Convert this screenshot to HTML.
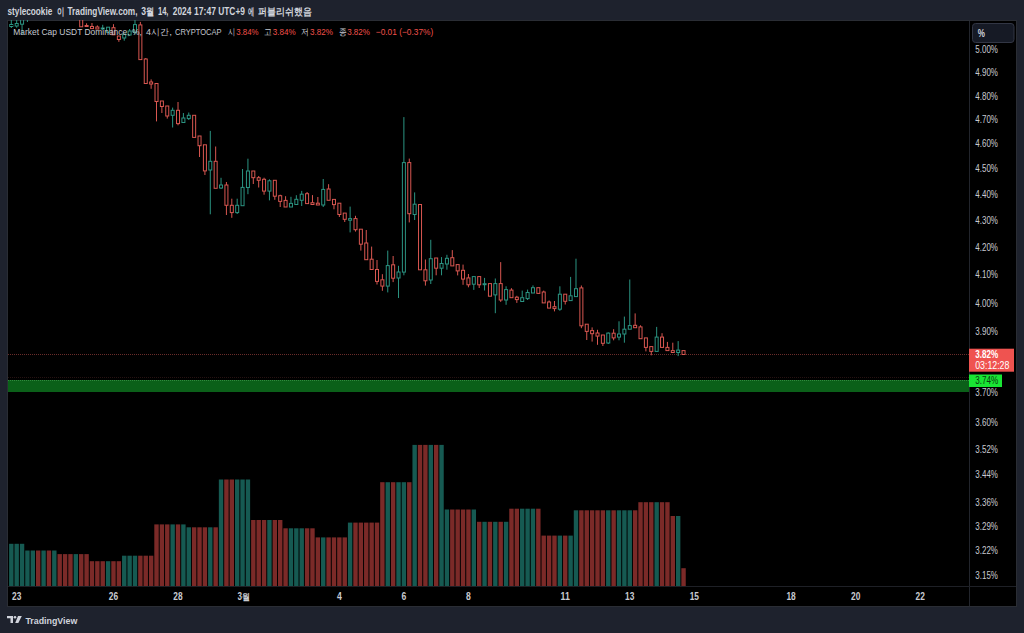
<!DOCTYPE html>
<html><head><meta charset="utf-8"><style>
*{margin:0;padding:0;box-sizing:border-box}
html,body{width:1024px;height:633px;overflow:hidden;background:#1e222d;font-family:"Liberation Sans",sans-serif}
#chart{position:absolute;left:8px;top:21px;width:1008px;height:585px;background:#000;box-shadow:0 0 0 1px #2a2d34}
.s{position:absolute;white-space:nowrap;transform-origin:0 50%}
</style></head><body>
<div id="chart"></div>
<svg width="1024" height="633" viewBox="0 0 1024 633" style="position:absolute;left:0;top:0">
<defs><clipPath id="cp"><rect x="8" y="20" width="962" height="566"/></clipPath></defs>
<g clip-path="url(#cp)"><rect x="9.10" y="543.8" width="4.40" height="42.2" fill="#165a52"/><rect x="14.48" y="543.8" width="4.40" height="42.2" fill="#165a52"/><rect x="19.86" y="543.8" width="4.40" height="42.2" fill="#165a52"/><rect x="25.23" y="550.5" width="4.40" height="35.5" fill="#165a52"/><rect x="30.61" y="550.5" width="4.40" height="35.5" fill="#165a52"/><rect x="35.99" y="550.5" width="4.40" height="35.5" fill="#7b2a28"/><rect x="41.37" y="550.5" width="4.40" height="35.5" fill="#165a52"/><rect x="46.75" y="550.5" width="4.40" height="35.5" fill="#7b2a28"/><rect x="52.12" y="550.5" width="4.40" height="35.5" fill="#165a52"/><rect x="57.50" y="554.1" width="4.40" height="31.9" fill="#7b2a28"/><rect x="62.88" y="554.1" width="4.40" height="31.9" fill="#7b2a28"/><rect x="68.26" y="554.1" width="4.40" height="31.9" fill="#7b2a28"/><rect x="73.64" y="554.1" width="4.40" height="31.9" fill="#165a52"/><rect x="79.01" y="554.1" width="4.40" height="31.9" fill="#7b2a28"/><rect x="84.39" y="554.1" width="4.40" height="31.9" fill="#7b2a28"/><rect x="89.77" y="561.2" width="4.40" height="24.8" fill="#7b2a28"/><rect x="95.15" y="561.2" width="4.40" height="24.8" fill="#7b2a28"/><rect x="100.53" y="561.2" width="4.40" height="24.8" fill="#7b2a28"/><rect x="105.90" y="561.2" width="4.40" height="24.8" fill="#165a52"/><rect x="111.28" y="561.2" width="4.40" height="24.8" fill="#7b2a28"/><rect x="116.66" y="561.2" width="4.40" height="24.8" fill="#7b2a28"/><rect x="122.04" y="555.7" width="4.40" height="30.3" fill="#165a52"/><rect x="127.42" y="555.7" width="4.40" height="30.3" fill="#165a52"/><rect x="132.79" y="555.7" width="4.40" height="30.3" fill="#165a52"/><rect x="138.17" y="555.7" width="4.40" height="30.3" fill="#7b2a28"/><rect x="143.55" y="555.7" width="4.40" height="30.3" fill="#7b2a28"/><rect x="148.93" y="555.7" width="4.40" height="30.3" fill="#7b2a28"/><rect x="154.31" y="524.4" width="4.40" height="61.6" fill="#7b2a28"/><rect x="159.68" y="524.4" width="4.40" height="61.6" fill="#7b2a28"/><rect x="165.06" y="524.4" width="4.40" height="61.6" fill="#7b2a28"/><rect x="170.44" y="524.4" width="4.40" height="61.6" fill="#165a52"/><rect x="175.82" y="524.4" width="4.40" height="61.6" fill="#7b2a28"/><rect x="181.20" y="524.4" width="4.40" height="61.6" fill="#165a52"/><rect x="186.57" y="527.3" width="4.40" height="58.7" fill="#165a52"/><rect x="191.95" y="527.3" width="4.40" height="58.7" fill="#7b2a28"/><rect x="197.33" y="527.3" width="4.40" height="58.7" fill="#7b2a28"/><rect x="202.71" y="527.3" width="4.40" height="58.7" fill="#7b2a28"/><rect x="208.09" y="527.3" width="4.40" height="58.7" fill="#165a52"/><rect x="213.46" y="527.3" width="4.40" height="58.7" fill="#7b2a28"/><rect x="218.84" y="479.5" width="4.40" height="106.5" fill="#165a52"/><rect x="224.22" y="479.5" width="4.40" height="106.5" fill="#7b2a28"/><rect x="229.60" y="479.5" width="4.40" height="106.5" fill="#7b2a28"/><rect x="234.98" y="479.5" width="4.40" height="106.5" fill="#165a52"/><rect x="240.35" y="479.5" width="4.40" height="106.5" fill="#165a52"/><rect x="245.73" y="479.5" width="4.40" height="106.5" fill="#165a52"/><rect x="251.11" y="520.0" width="4.40" height="66.0" fill="#7b2a28"/><rect x="256.49" y="520.0" width="4.40" height="66.0" fill="#7b2a28"/><rect x="261.87" y="520.0" width="4.40" height="66.0" fill="#7b2a28"/><rect x="267.24" y="520.0" width="4.40" height="66.0" fill="#165a52"/><rect x="272.62" y="520.0" width="4.40" height="66.0" fill="#7b2a28"/><rect x="278.00" y="520.0" width="4.40" height="66.0" fill="#7b2a28"/><rect x="283.38" y="528.3" width="4.40" height="57.7" fill="#7b2a28"/><rect x="288.76" y="528.3" width="4.40" height="57.7" fill="#165a52"/><rect x="294.13" y="528.3" width="4.40" height="57.7" fill="#165a52"/><rect x="299.51" y="528.3" width="4.40" height="57.7" fill="#165a52"/><rect x="304.89" y="528.3" width="4.40" height="57.7" fill="#7b2a28"/><rect x="310.27" y="528.3" width="4.40" height="57.7" fill="#7b2a28"/><rect x="315.65" y="537.4" width="4.40" height="48.6" fill="#7b2a28"/><rect x="321.02" y="537.4" width="4.40" height="48.6" fill="#165a52"/><rect x="326.40" y="537.4" width="4.40" height="48.6" fill="#7b2a28"/><rect x="331.78" y="537.4" width="4.40" height="48.6" fill="#7b2a28"/><rect x="337.16" y="537.4" width="4.40" height="48.6" fill="#7b2a28"/><rect x="342.54" y="537.4" width="4.40" height="48.6" fill="#7b2a28"/><rect x="347.91" y="522.6" width="4.40" height="63.4" fill="#165a52"/><rect x="353.29" y="522.6" width="4.40" height="63.4" fill="#7b2a28"/><rect x="358.67" y="522.6" width="4.40" height="63.4" fill="#7b2a28"/><rect x="364.05" y="522.6" width="4.40" height="63.4" fill="#7b2a28"/><rect x="369.43" y="522.6" width="4.40" height="63.4" fill="#7b2a28"/><rect x="374.80" y="522.6" width="4.40" height="63.4" fill="#7b2a28"/><rect x="380.18" y="482.2" width="4.40" height="103.8" fill="#7b2a28"/><rect x="385.56" y="482.2" width="4.40" height="103.8" fill="#165a52"/><rect x="390.94" y="482.2" width="4.40" height="103.8" fill="#7b2a28"/><rect x="396.32" y="482.2" width="4.40" height="103.8" fill="#165a52"/><rect x="401.69" y="482.2" width="4.40" height="103.8" fill="#165a52"/><rect x="407.07" y="482.2" width="4.40" height="103.8" fill="#7b2a28"/><rect x="412.45" y="444.9" width="4.40" height="141.1" fill="#165a52"/><rect x="417.83" y="444.9" width="4.40" height="141.1" fill="#7b2a28"/><rect x="423.21" y="444.9" width="4.40" height="141.1" fill="#7b2a28"/><rect x="428.58" y="444.9" width="4.40" height="141.1" fill="#165a52"/><rect x="433.96" y="444.9" width="4.40" height="141.1" fill="#7b2a28"/><rect x="439.34" y="444.9" width="4.40" height="141.1" fill="#165a52"/><rect x="444.72" y="509.5" width="4.40" height="76.5" fill="#165a52"/><rect x="450.10" y="509.5" width="4.40" height="76.5" fill="#7b2a28"/><rect x="455.47" y="509.5" width="4.40" height="76.5" fill="#7b2a28"/><rect x="460.85" y="509.5" width="4.40" height="76.5" fill="#7b2a28"/><rect x="466.23" y="509.5" width="4.40" height="76.5" fill="#7b2a28"/><rect x="471.61" y="509.5" width="4.40" height="76.5" fill="#165a52"/><rect x="476.99" y="521.8" width="4.40" height="64.2" fill="#7b2a28"/><rect x="482.36" y="521.8" width="4.40" height="64.2" fill="#165a52"/><rect x="487.74" y="521.8" width="4.40" height="64.2" fill="#7b2a28"/><rect x="493.12" y="521.8" width="4.40" height="64.2" fill="#165a52"/><rect x="498.50" y="521.8" width="4.40" height="64.2" fill="#7b2a28"/><rect x="503.88" y="521.8" width="4.40" height="64.2" fill="#165a52"/><rect x="509.25" y="508.7" width="4.40" height="77.3" fill="#7b2a28"/><rect x="514.63" y="508.7" width="4.40" height="77.3" fill="#7b2a28"/><rect x="520.01" y="508.7" width="4.40" height="77.3" fill="#165a52"/><rect x="525.39" y="508.7" width="4.40" height="77.3" fill="#165a52"/><rect x="530.77" y="508.7" width="4.40" height="77.3" fill="#165a52"/><rect x="536.14" y="508.7" width="4.40" height="77.3" fill="#7b2a28"/><rect x="541.52" y="535.6" width="4.40" height="50.4" fill="#7b2a28"/><rect x="546.90" y="535.6" width="4.40" height="50.4" fill="#7b2a28"/><rect x="552.28" y="535.6" width="4.40" height="50.4" fill="#7b2a28"/><rect x="557.66" y="535.6" width="4.40" height="50.4" fill="#165a52"/><rect x="563.03" y="535.6" width="4.40" height="50.4" fill="#7b2a28"/><rect x="568.41" y="535.6" width="4.40" height="50.4" fill="#165a52"/><rect x="573.79" y="510.3" width="4.40" height="75.7" fill="#165a52"/><rect x="579.17" y="510.3" width="4.40" height="75.7" fill="#7b2a28"/><rect x="584.55" y="510.3" width="4.40" height="75.7" fill="#7b2a28"/><rect x="589.92" y="510.3" width="4.40" height="75.7" fill="#7b2a28"/><rect x="595.30" y="510.3" width="4.40" height="75.7" fill="#7b2a28"/><rect x="600.68" y="510.3" width="4.40" height="75.7" fill="#7b2a28"/><rect x="606.06" y="510.3" width="4.40" height="75.7" fill="#165a52"/><rect x="611.44" y="510.3" width="4.40" height="75.7" fill="#7b2a28"/><rect x="616.81" y="510.3" width="4.40" height="75.7" fill="#165a52"/><rect x="622.19" y="510.3" width="4.40" height="75.7" fill="#165a52"/><rect x="627.57" y="510.3" width="4.40" height="75.7" fill="#165a52"/><rect x="632.95" y="510.3" width="4.40" height="75.7" fill="#7b2a28"/><rect x="638.33" y="502.2" width="4.40" height="83.8" fill="#7b2a28"/><rect x="643.70" y="502.2" width="4.40" height="83.8" fill="#7b2a28"/><rect x="649.08" y="502.2" width="4.40" height="83.8" fill="#7b2a28"/><rect x="654.46" y="502.2" width="4.40" height="83.8" fill="#165a52"/><rect x="659.84" y="502.2" width="4.40" height="83.8" fill="#7b2a28"/><rect x="665.22" y="502.2" width="4.40" height="83.8" fill="#7b2a28"/><rect x="670.59" y="516.0" width="4.40" height="70.0" fill="#7b2a28"/><rect x="675.97" y="516.0" width="4.40" height="70.0" fill="#165a52"/><rect x="681.35" y="568.2" width="4.40" height="17.8" fill="#7b2a28"/><line x1="8" y1="354.5" x2="970" y2="354.5" stroke="#6a2c2a" stroke-width="1" stroke-dasharray="1 1"/><line x1="8" y1="377.5" x2="970" y2="377.5" stroke="#261212" stroke-width="1" stroke-dasharray="1 1"/><rect x="8" y="380" width="962" height="12" fill="#0b6019"/><line x1="8" y1="380.5" x2="970" y2="380.5" stroke="#2f8a3c" stroke-width="1" stroke-dasharray="1 1"/><g><rect x="9.80" y="24.5" width="3" height="2.0" fill="none" stroke="#2b9482"/><path d="M11.30 0.0V24.5M11.30 26.5V28.0" stroke="#2b9482" fill="none"/><rect x="15.18" y="23.5" width="3" height="2.5" fill="none" stroke="#2b9482"/><path d="M16.68 0.0V23.5M16.68 26.0V27.7" stroke="#2b9482" fill="none"/><rect x="20.56" y="10.0" width="3" height="14.2" fill="none" stroke="#2b9482"/><path d="M22.06 0.0V10.0M22.06 24.2V34.8" stroke="#2b9482" fill="none"/><rect x="25.93" y="5.0" width="3" height="10.0" fill="none" stroke="#2b9482"/><path d="M27.43 0.0V5.0M27.43 15.0V22.0" stroke="#2b9482" fill="none"/><rect x="79.71" y="10.0" width="3" height="16.8" fill="none" stroke="#d95751"/><path d="M81.21 0.0V10.0" stroke="#d95751" fill="none"/><rect x="85.09" y="25.5" width="3" height="1.0" fill="none" stroke="#d95751"/><path d="M86.59 23.3V25.5M86.59 26.5V27.0" stroke="#d95751" fill="none"/><rect x="90.47" y="26.5" width="3" height="2.1" fill="none" stroke="#d95751"/><path d="M91.97 23.0V26.5" stroke="#d95751" fill="none"/><rect x="95.85" y="27.0" width="3" height="2.0" fill="none" stroke="#d95751"/><path d="M97.35 25.4V27.0" stroke="#d95751" fill="none"/><rect x="101.23" y="28.0" width="3" height="1.0" fill="none" stroke="#2b9482"/><path d="M102.73 24.8V28.0M102.73 29.0V30.0" stroke="#2b9482" fill="none"/><rect x="106.60" y="27.2" width="3" height="5.2" fill="none" stroke="#2b9482"/><rect x="111.98" y="27.7" width="3" height="7.1" fill="none" stroke="#d95751"/><path d="M113.48 24.2V27.7" stroke="#d95751" fill="none"/><rect x="117.36" y="36.0" width="3" height="3.5" fill="none" stroke="#d95751"/><path d="M118.86 39.5V41.8" stroke="#d95751" fill="none"/><rect x="122.74" y="34.0" width="3" height="4.0" fill="none" stroke="#2b9482"/><path d="M124.24 38.0V40.7" stroke="#2b9482" fill="none"/><rect x="128.12" y="31.0" width="3" height="4.0" fill="none" stroke="#2b9482"/><path d="M129.62 29.0V31.0M129.62 35.0V36.0" stroke="#2b9482" fill="none"/><rect x="133.49" y="24.6" width="3" height="7.8" fill="none" stroke="#2b9482"/><path d="M134.99 15.0V24.6M134.99 32.4V34.6" stroke="#2b9482" fill="none"/><rect x="138.87" y="24.9" width="3" height="34.7" fill="none" stroke="#d95751"/><path d="M140.37 21.9V24.9" stroke="#d95751" fill="none"/><rect x="144.25" y="59.0" width="3" height="24.5" fill="none" stroke="#d95751"/><path d="M145.75 58.0V59.0" stroke="#d95751" fill="none"/><rect x="149.63" y="82.0" width="3" height="2.0" fill="none" stroke="#d95751"/><path d="M151.13 79.4V82.0M151.13 84.0V88.8" stroke="#d95751" fill="none"/><rect x="155.01" y="83.5" width="3" height="18.0" fill="none" stroke="#d95751"/><path d="M156.51 101.5V121.4" stroke="#d95751" fill="none"/><rect x="160.38" y="101.0" width="3" height="5.5" fill="none" stroke="#d95751"/><path d="M161.88 106.5V113.0" stroke="#d95751" fill="none"/><rect x="165.76" y="106.0" width="3" height="10.0" fill="none" stroke="#d95751"/><path d="M167.26 116.0V118.6" stroke="#d95751" fill="none"/><rect x="171.14" y="110.3" width="3" height="5.0" fill="none" stroke="#2b9482"/><path d="M172.64 107.6V110.3M172.64 115.3V127.5" stroke="#2b9482" fill="none"/><rect x="176.52" y="110.3" width="3" height="13.3" fill="none" stroke="#d95751"/><path d="M178.02 102.0V110.3M178.02 123.6V125.3" stroke="#d95751" fill="none"/><rect x="181.90" y="118.0" width="3" height="4.5" fill="none" stroke="#2b9482"/><path d="M183.40 113.0V118.0" stroke="#2b9482" fill="none"/><rect x="187.27" y="115.3" width="3" height="3.3" fill="none" stroke="#2b9482"/><path d="M188.77 112.5V115.3M188.77 118.6V120.0" stroke="#2b9482" fill="none"/><rect x="192.65" y="115.3" width="3" height="22.1" fill="none" stroke="#d95751"/><rect x="198.03" y="136.0" width="3" height="9.7" fill="none" stroke="#d95751"/><path d="M199.53 145.7V157.0" stroke="#d95751" fill="none"/><rect x="203.41" y="144.8" width="3" height="26.1" fill="none" stroke="#d95751"/><path d="M204.91 170.9V175.0" stroke="#d95751" fill="none"/><rect x="208.79" y="161.3" width="3" height="8.7" fill="none" stroke="#2b9482"/><path d="M210.29 130.9V161.3M210.29 170.0V214.3" stroke="#2b9482" fill="none"/><rect x="214.16" y="161.3" width="3" height="27.0" fill="none" stroke="#d95751"/><path d="M215.66 146.5V161.3" stroke="#d95751" fill="none"/><rect x="219.54" y="185.0" width="3" height="3.0" fill="none" stroke="#2b9482"/><path d="M221.04 177.8V185.0M221.04 188.0V189.0" stroke="#2b9482" fill="none"/><rect x="224.92" y="185.0" width="3" height="20.3" fill="none" stroke="#d95751"/><path d="M226.42 182.0V185.0M226.42 205.3V215.0" stroke="#d95751" fill="none"/><rect x="230.30" y="205.3" width="3" height="7.3" fill="none" stroke="#d95751"/><path d="M231.80 198.7V205.3M231.80 212.6V217.8" stroke="#d95751" fill="none"/><rect x="235.68" y="205.3" width="3" height="7.3" fill="none" stroke="#2b9482"/><path d="M237.18 198.7V205.3M237.18 212.6V214.0" stroke="#2b9482" fill="none"/><rect x="241.05" y="187.4" width="3" height="18.3" fill="none" stroke="#2b9482"/><path d="M242.55 169.0V187.4" stroke="#2b9482" fill="none"/><rect x="246.43" y="171.0" width="3" height="16.5" fill="none" stroke="#2b9482"/><path d="M247.93 158.7V171.0M247.93 187.5V194.2" stroke="#2b9482" fill="none"/><rect x="251.81" y="171.0" width="3" height="6.7" fill="none" stroke="#d95751"/><path d="M253.31 177.7V184.0" stroke="#d95751" fill="none"/><rect x="257.19" y="177.7" width="3" height="2.6" fill="none" stroke="#d95751"/><path d="M258.69 176.0V177.7M258.69 180.3V187.5" stroke="#d95751" fill="none"/><rect x="262.57" y="179.3" width="3" height="11.8" fill="none" stroke="#d95751"/><path d="M264.07 177.7V179.3M264.07 191.1V194.7" stroke="#d95751" fill="none"/><rect x="267.94" y="180.8" width="3" height="10.3" fill="none" stroke="#2b9482"/><path d="M269.44 179.3V180.8M269.44 191.1V200.4" stroke="#2b9482" fill="none"/><rect x="273.32" y="180.3" width="3" height="15.9" fill="none" stroke="#d95751"/><path d="M274.82 196.2V199.8" stroke="#d95751" fill="none"/><rect x="278.70" y="195.7" width="3" height="5.7" fill="none" stroke="#d95751"/><path d="M280.20 194.7V195.7M280.20 201.4V207.0" stroke="#d95751" fill="none"/><rect x="284.08" y="200.4" width="3" height="6.6" fill="none" stroke="#d95751"/><path d="M285.58 196.2V200.4" stroke="#d95751" fill="none"/><rect x="289.46" y="203.4" width="3" height="3.6" fill="none" stroke="#2b9482"/><path d="M290.96 196.8V203.4" stroke="#2b9482" fill="none"/><rect x="294.83" y="199.3" width="3" height="5.2" fill="none" stroke="#2b9482"/><path d="M296.33 195.2V199.3" stroke="#2b9482" fill="none"/><rect x="300.21" y="194.2" width="3" height="6.1" fill="none" stroke="#2b9482"/><path d="M301.71 190.9V194.2M301.71 200.3V206.0" stroke="#2b9482" fill="none"/><rect x="305.59" y="193.7" width="3" height="9.9" fill="none" stroke="#d95751"/><path d="M307.09 192.0V193.7" stroke="#d95751" fill="none"/><rect x="310.97" y="202.7" width="3" height="1.8" fill="none" stroke="#d95751"/><path d="M312.47 195.1V202.7" stroke="#d95751" fill="none"/><rect x="316.35" y="203.2" width="3" height="1.8" fill="none" stroke="#d95751"/><path d="M317.85 197.0V203.2" stroke="#d95751" fill="none"/><rect x="321.72" y="189.4" width="3" height="15.6" fill="none" stroke="#2b9482"/><path d="M323.22 179.0V189.4M323.22 205.0V207.0" stroke="#2b9482" fill="none"/><rect x="327.10" y="189.0" width="3" height="11.3" fill="none" stroke="#d95751"/><path d="M328.60 184.2V189.0" stroke="#d95751" fill="none"/><rect x="332.48" y="199.4" width="3" height="5.2" fill="none" stroke="#d95751"/><path d="M333.98 204.6V209.3" stroke="#d95751" fill="none"/><rect x="337.86" y="203.2" width="3" height="11.3" fill="none" stroke="#d95751"/><path d="M339.36 214.5V217.0" stroke="#d95751" fill="none"/><rect x="343.24" y="213.1" width="3" height="6.2" fill="none" stroke="#d95751"/><path d="M344.74 219.3V222.0" stroke="#d95751" fill="none"/><rect x="348.61" y="218.6" width="3" height="1.6" fill="none" stroke="#2b9482"/><path d="M350.11 206.6V218.6M350.11 220.2V232.4" stroke="#2b9482" fill="none"/><rect x="353.99" y="218.6" width="3" height="11.1" fill="none" stroke="#d95751"/><path d="M355.49 215.8V218.6M355.49 229.7V231.6" stroke="#d95751" fill="none"/><rect x="359.37" y="229.2" width="3" height="15.0" fill="none" stroke="#d95751"/><path d="M360.87 244.2V250.6" stroke="#d95751" fill="none"/><rect x="364.75" y="243.0" width="3" height="16.7" fill="none" stroke="#d95751"/><path d="M366.25 230.0V243.0" stroke="#d95751" fill="none"/><rect x="370.13" y="259.2" width="3" height="10.3" fill="none" stroke="#d95751"/><path d="M371.63 246.6V259.2" stroke="#d95751" fill="none"/><rect x="375.50" y="269.5" width="3" height="11.9" fill="none" stroke="#d95751"/><path d="M377.00 260.0V269.5M377.00 281.4V284.5" stroke="#d95751" fill="none"/><rect x="380.88" y="279.8" width="3" height="6.3" fill="none" stroke="#d95751"/><path d="M382.38 274.2V279.8M382.38 286.1V290.8" stroke="#d95751" fill="none"/><rect x="386.26" y="265.6" width="3" height="20.5" fill="none" stroke="#2b9482"/><path d="M387.76 250.6V265.6M387.76 286.1V292.4" stroke="#2b9482" fill="none"/><rect x="391.64" y="264.8" width="3" height="13.4" fill="none" stroke="#d95751"/><path d="M393.14 256.0V264.8M393.14 278.2V282.1" stroke="#d95751" fill="none"/><rect x="397.02" y="272.0" width="3" height="6.0" fill="none" stroke="#2b9482"/><path d="M398.52 265.8V272.0M398.52 278.0V298.0" stroke="#2b9482" fill="none"/><rect x="402.39" y="162.6" width="3" height="109.5" fill="none" stroke="#2b9482"/><path d="M403.89 117.1V162.6M403.89 272.1V275.3" stroke="#2b9482" fill="none"/><rect x="407.77" y="162.6" width="3" height="51.1" fill="none" stroke="#d95751"/><path d="M409.27 158.6V162.6M409.27 213.7V222.4" stroke="#d95751" fill="none"/><rect x="413.15" y="204.2" width="3" height="10.3" fill="none" stroke="#2b9482"/><path d="M414.65 192.4V204.2M414.65 214.5V220.0" stroke="#2b9482" fill="none"/><rect x="418.53" y="204.5" width="3" height="65.3" fill="none" stroke="#d95751"/><rect x="423.91" y="269.8" width="3" height="11.0" fill="none" stroke="#d95751"/><path d="M425.41 259.5V269.8M425.41 280.8V285.6" stroke="#d95751" fill="none"/><rect x="429.28" y="258.7" width="3" height="21.3" fill="none" stroke="#2b9482"/><path d="M430.78 239.8V258.7M430.78 280.0V284.0" stroke="#2b9482" fill="none"/><rect x="434.66" y="258.0" width="3" height="10.2" fill="none" stroke="#d95751"/><path d="M436.16 268.2V275.3" stroke="#d95751" fill="none"/><rect x="440.04" y="263.5" width="3" height="4.7" fill="none" stroke="#2b9482"/><path d="M441.54 257.1V263.5M441.54 268.2V275.3" stroke="#2b9482" fill="none"/><rect x="445.42" y="258.3" width="3" height="5.7" fill="none" stroke="#2b9482"/><path d="M446.92 254.8V258.3M446.92 264.0V269.7" stroke="#2b9482" fill="none"/><rect x="450.80" y="257.7" width="3" height="8.2" fill="none" stroke="#d95751"/><path d="M452.30 250.1V257.7" stroke="#d95751" fill="none"/><rect x="456.17" y="264.6" width="3" height="6.3" fill="none" stroke="#d95751"/><path d="M457.67 270.9V275.4" stroke="#d95751" fill="none"/><rect x="461.55" y="270.3" width="3" height="8.8" fill="none" stroke="#d95751"/><path d="M463.05 264.6V270.3M463.05 279.1V284.8" stroke="#d95751" fill="none"/><rect x="466.93" y="277.9" width="3" height="6.9" fill="none" stroke="#d95751"/><path d="M468.43 274.0V277.9M468.43 284.8V287.3" stroke="#d95751" fill="none"/><rect x="472.31" y="276.6" width="3" height="7.6" fill="none" stroke="#2b9482"/><path d="M473.81 284.2V289.9" stroke="#2b9482" fill="none"/><rect x="477.69" y="276.6" width="3" height="8.2" fill="none" stroke="#d95751"/><path d="M479.19 284.8V288.0" stroke="#d95751" fill="none"/><rect x="483.06" y="283.7" width="3" height="1.0" fill="none" stroke="#2b9482"/><path d="M484.56 277.9V283.7M484.56 284.7V290.5" stroke="#2b9482" fill="none"/><rect x="488.44" y="283.6" width="3" height="12.6" fill="none" stroke="#d95751"/><rect x="493.82" y="283.6" width="3" height="11.3" fill="none" stroke="#2b9482"/><path d="M495.32 278.5V283.6M495.32 294.9V313.2" stroke="#2b9482" fill="none"/><rect x="499.20" y="283.6" width="3" height="16.4" fill="none" stroke="#d95751"/><path d="M500.70 262.1V283.6M500.70 300.0V301.9" stroke="#d95751" fill="none"/><rect x="504.58" y="289.6" width="3" height="10.4" fill="none" stroke="#2b9482"/><path d="M506.08 286.3V289.6M506.08 300.0V304.8" stroke="#2b9482" fill="none"/><rect x="509.95" y="290.1" width="3" height="7.6" fill="none" stroke="#d95751"/><path d="M511.45 288.2V290.1" stroke="#d95751" fill="none"/><rect x="515.33" y="297.2" width="3" height="2.4" fill="none" stroke="#d95751"/><path d="M516.83 295.8V297.2M516.83 299.6V302.9" stroke="#d95751" fill="none"/><rect x="520.71" y="297.7" width="3" height="3.8" fill="none" stroke="#2b9482"/><path d="M522.21 290.6V297.7" stroke="#2b9482" fill="none"/><rect x="526.09" y="292.5" width="3" height="6.1" fill="none" stroke="#2b9482"/><path d="M527.59 289.6V292.5M527.59 298.6V300.0" stroke="#2b9482" fill="none"/><rect x="531.47" y="287.7" width="3" height="5.3" fill="none" stroke="#2b9482"/><path d="M532.97 285.4V287.7" stroke="#2b9482" fill="none"/><rect x="536.84" y="287.7" width="3" height="5.7" fill="none" stroke="#d95751"/><rect x="542.22" y="292.0" width="3" height="10.9" fill="none" stroke="#d95751"/><path d="M543.72 290.6V292.0" stroke="#d95751" fill="none"/><rect x="547.60" y="302.0" width="3" height="6.1" fill="none" stroke="#d95751"/><path d="M549.10 300.5V302.0" stroke="#d95751" fill="none"/><rect x="552.98" y="306.7" width="3" height="1.9" fill="none" stroke="#d95751"/><path d="M554.48 301.0V306.7M554.48 308.6V311.4" stroke="#d95751" fill="none"/><rect x="558.36" y="294.2" width="3" height="15.0" fill="none" stroke="#2b9482"/><path d="M559.86 286.3V294.2M559.86 309.2V310.8" stroke="#2b9482" fill="none"/><rect x="563.73" y="294.2" width="3" height="7.1" fill="none" stroke="#d95751"/><path d="M565.23 301.3V304.5" stroke="#d95751" fill="none"/><rect x="569.11" y="295.8" width="3" height="4.8" fill="none" stroke="#2b9482"/><path d="M570.61 276.9V295.8" stroke="#2b9482" fill="none"/><rect x="574.49" y="288.7" width="3" height="7.9" fill="none" stroke="#2b9482"/><path d="M575.99 258.7V288.7" stroke="#2b9482" fill="none"/><rect x="579.87" y="287.9" width="3" height="37.9" fill="none" stroke="#d95751"/><path d="M581.37 285.5V287.9M581.37 325.8V328.2" stroke="#d95751" fill="none"/><rect x="585.25" y="324.2" width="3" height="7.2" fill="none" stroke="#d95751"/><path d="M586.75 331.4V340.0" stroke="#d95751" fill="none"/><rect x="590.62" y="330.6" width="3" height="3.1" fill="none" stroke="#d95751"/><path d="M592.12 327.4V330.6M592.12 333.7V341.6" stroke="#d95751" fill="none"/><rect x="596.00" y="333.0" width="3" height="3.1" fill="none" stroke="#d95751"/><path d="M597.50 329.8V333.0M597.50 336.1V344.8" stroke="#d95751" fill="none"/><rect x="601.38" y="335.0" width="3" height="8.3" fill="none" stroke="#d95751"/><path d="M602.88 343.3V346.0" stroke="#d95751" fill="none"/><rect x="606.76" y="333.1" width="3" height="9.9" fill="none" stroke="#2b9482"/><path d="M608.26 332.4V333.1M608.26 343.0V344.0" stroke="#2b9482" fill="none"/><rect x="612.14" y="333.2" width="3" height="4.7" fill="none" stroke="#d95751"/><path d="M613.64 329.2V333.2M613.64 337.9V340.3" stroke="#d95751" fill="none"/><rect x="617.51" y="334.0" width="3" height="3.1" fill="none" stroke="#2b9482"/><path d="M619.01 321.3V334.0M619.01 337.1V340.3" stroke="#2b9482" fill="none"/><rect x="622.89" y="329.2" width="3" height="4.8" fill="none" stroke="#2b9482"/><path d="M624.39 316.6V329.2M624.39 334.0V342.7" stroke="#2b9482" fill="none"/><rect x="628.27" y="325.6" width="3" height="3.6" fill="none" stroke="#2b9482"/><path d="M629.77 279.5V325.6" stroke="#2b9482" fill="none"/><rect x="633.65" y="325.3" width="3" height="2.4" fill="none" stroke="#d95751"/><path d="M635.15 313.4V325.3" stroke="#d95751" fill="none"/><rect x="639.03" y="326.9" width="3" height="11.8" fill="none" stroke="#d95751"/><path d="M640.53 325.3V326.9" stroke="#d95751" fill="none"/><rect x="644.40" y="337.9" width="3" height="9.5" fill="none" stroke="#d95751"/><path d="M645.90 347.4V351.4" stroke="#d95751" fill="none"/><rect x="649.78" y="346.6" width="3" height="4.8" fill="none" stroke="#d95751"/><path d="M651.28 351.4V355.3" stroke="#d95751" fill="none"/><rect x="655.16" y="337.1" width="3" height="14.3" fill="none" stroke="#2b9482"/><path d="M656.66 326.9V337.1" stroke="#2b9482" fill="none"/><rect x="660.54" y="337.1" width="3" height="10.3" fill="none" stroke="#d95751"/><path d="M662.04 333.2V337.1" stroke="#d95751" fill="none"/><rect x="665.92" y="347.4" width="3" height="3.2" fill="none" stroke="#d95751"/><path d="M667.42 341.9V347.4" stroke="#d95751" fill="none"/><rect x="671.29" y="350.6" width="3" height="1.9" fill="none" stroke="#d95751"/><path d="M672.79 342.7V350.6" stroke="#d95751" fill="none"/><rect x="676.67" y="350.1" width="3" height="2.4" fill="none" stroke="#2b9482"/><path d="M678.17 341.1V350.1M678.17 352.5V356.1" stroke="#2b9482" fill="none"/><rect x="682.05" y="350.6" width="3" height="3.9" fill="none" stroke="#d95751"/></g></g>
<line x1="969.5" y1="21" x2="969.5" y2="606" stroke="#22252c"/>
<line x1="8" y1="586.5" x2="1016" y2="586.5" stroke="#1e2026"/>
<rect x="972.5" y="23.5" width="41.5" height="19" rx="3" fill="#161a25" stroke="#323644"/>
<rect x="969" y="348.7" width="45" height="23" fill="#ef5350"/>
<rect x="969" y="374.5" width="33" height="12.5" fill="#19e534"/>
<path d="M7 616H13V623H10.5V618.3H7Z" fill="#d1d4dc"/><circle cx="15" cy="617.3" r="1.3" fill="#d1d4dc"/><path d="M18 616H21.8L18.3 623H15.2Z" fill="#d1d4dc"/>
</svg>
<svg width="1024" height="633" viewBox="0 0 1024 633" style="position:absolute;left:0;top:0" font-family="Liberation Sans, sans-serif" xml:space="preserve"><text x="7.50" y="14.66" font-size="10" fill="#d1d4dc" font-weight="700" textLength="44.80" lengthAdjust="spacingAndGlyphs">stylecookie</text><text x="56.60" y="14.66" font-size="10" fill="#d1d4dc" font-weight="700" textLength="7.40" lengthAdjust="spacingAndGlyphs">이</text><text x="67.50" y="14.66" font-size="10" fill="#d1d4dc" font-weight="700" textLength="70.00" lengthAdjust="spacingAndGlyphs">TradingView.com,</text><text x="141.20" y="14.66" font-size="10" fill="#d1d4dc" font-weight="700" textLength="4.80" lengthAdjust="spacingAndGlyphs">3</text><text x="145.80" y="14.66" font-size="10" fill="#d1d4dc" font-weight="700" textLength="8.20" lengthAdjust="spacingAndGlyphs">월</text><text x="157.90" y="14.66" font-size="10" fill="#d1d4dc" font-weight="700" textLength="10.60" lengthAdjust="spacingAndGlyphs">14,</text><text x="172.80" y="14.66" font-size="10" fill="#d1d4dc" font-weight="700" textLength="18.50" lengthAdjust="spacingAndGlyphs">2024</text><text x="194.00" y="14.66" font-size="10" fill="#d1d4dc" font-weight="700" textLength="22.00" lengthAdjust="spacingAndGlyphs">17:47</text><text x="218.20" y="14.66" font-size="10" fill="#d1d4dc" font-weight="700" textLength="26.80" lengthAdjust="spacingAndGlyphs">UTC+9</text><text x="248.40" y="14.66" font-size="10" fill="#d1d4dc" font-weight="700" textLength="6.20" lengthAdjust="spacingAndGlyphs">에</text><text x="258.00" y="14.66" font-size="10" fill="#d1d4dc" font-weight="700" textLength="53.70" lengthAdjust="spacingAndGlyphs">퍼블리쉬했음</text><text x="13.30" y="34.82" font-size="9" fill="#c5c8d0" textLength="128.50" lengthAdjust="spacingAndGlyphs">Market Cap USDT Dominance, %,</text><text x="146.00" y="34.82" font-size="9" fill="#c5c8d0" textLength="5.00" lengthAdjust="spacingAndGlyphs">4</text><text x="151.20" y="34.82" font-size="9" fill="#c5c8d0" textLength="17.80" lengthAdjust="spacingAndGlyphs">시간</text><text x="169.20" y="34.82" font-size="9" fill="#c5c8d0" textLength="2.80" lengthAdjust="spacingAndGlyphs">,</text><text x="175.00" y="34.82" font-size="9" fill="#c5c8d0" textLength="46.60" lengthAdjust="spacingAndGlyphs">CRYPTOCAP</text><text x="227.70" y="34.82" font-size="9" fill="#c5c8d0" textLength="7.30" lengthAdjust="spacingAndGlyphs">시</text><text x="236.30" y="34.82" font-size="9" fill="#f0504a" textLength="22.30" lengthAdjust="spacingAndGlyphs">3.84%</text><text x="263.70" y="34.82" font-size="9" fill="#c5c8d0" textLength="7.80" lengthAdjust="spacingAndGlyphs">고</text><text x="272.70" y="34.82" font-size="9" fill="#f0504a" textLength="22.90" lengthAdjust="spacingAndGlyphs">3.84%</text><text x="301.20" y="34.82" font-size="9" fill="#c5c8d0" textLength="7.80" lengthAdjust="spacingAndGlyphs">저</text><text x="310.10" y="34.82" font-size="9" fill="#f0504a" textLength="23.00" lengthAdjust="spacingAndGlyphs">3.82%</text><text x="338.70" y="34.82" font-size="9" fill="#c5c8d0" textLength="7.80" lengthAdjust="spacingAndGlyphs">종</text><text x="347.20" y="34.82" font-size="9" fill="#f0504a" textLength="22.70" lengthAdjust="spacingAndGlyphs">3.82%</text><text x="375.80" y="34.82" font-size="9" fill="#f0504a" textLength="57.40" lengthAdjust="spacingAndGlyphs">−0.01 (−0.37%)</text><text x="975.30" y="53.06" font-size="10" fill="#c8cad0" textLength="22.60" lengthAdjust="spacingAndGlyphs">5.00%</text><text x="975.30" y="76.36" font-size="10" fill="#c8cad0" textLength="22.60" lengthAdjust="spacingAndGlyphs">4.90%</text><text x="975.30" y="99.77" font-size="10" fill="#c8cad0" textLength="22.60" lengthAdjust="spacingAndGlyphs">4.80%</text><text x="975.30" y="123.27" font-size="10" fill="#c8cad0" textLength="22.60" lengthAdjust="spacingAndGlyphs">4.70%</text><text x="975.30" y="147.47" font-size="10" fill="#c8cad0" textLength="22.60" lengthAdjust="spacingAndGlyphs">4.60%</text><text x="975.30" y="172.27" font-size="10" fill="#c8cad0" textLength="22.60" lengthAdjust="spacingAndGlyphs">4.50%</text><text x="975.30" y="197.97" font-size="10" fill="#c8cad0" textLength="22.60" lengthAdjust="spacingAndGlyphs">4.40%</text><text x="975.30" y="224.47" font-size="10" fill="#c8cad0" textLength="22.60" lengthAdjust="spacingAndGlyphs">4.30%</text><text x="975.30" y="251.47" font-size="10" fill="#c8cad0" textLength="22.60" lengthAdjust="spacingAndGlyphs">4.20%</text><text x="975.30" y="278.16" font-size="10" fill="#c8cad0" textLength="22.60" lengthAdjust="spacingAndGlyphs">4.10%</text><text x="975.30" y="306.87" font-size="10" fill="#c8cad0" textLength="22.60" lengthAdjust="spacingAndGlyphs">4.00%</text><text x="975.30" y="335.26" font-size="10" fill="#c8cad0" textLength="22.60" lengthAdjust="spacingAndGlyphs">3.90%</text><text x="975.30" y="395.76" font-size="10" fill="#c8cad0" textLength="22.60" lengthAdjust="spacingAndGlyphs">3.70%</text><text x="975.30" y="426.26" font-size="10" fill="#c8cad0" textLength="22.60" lengthAdjust="spacingAndGlyphs">3.60%</text><text x="975.30" y="452.76" font-size="10" fill="#c8cad0" textLength="22.60" lengthAdjust="spacingAndGlyphs">3.52%</text><text x="975.30" y="478.26" font-size="10" fill="#c8cad0" textLength="22.60" lengthAdjust="spacingAndGlyphs">3.44%</text><text x="975.30" y="505.76" font-size="10" fill="#c8cad0" textLength="22.60" lengthAdjust="spacingAndGlyphs">3.36%</text><text x="975.30" y="529.76" font-size="10" fill="#c8cad0" textLength="22.60" lengthAdjust="spacingAndGlyphs">3.29%</text><text x="975.30" y="553.76" font-size="10" fill="#c8cad0" textLength="22.60" lengthAdjust="spacingAndGlyphs">3.22%</text><text x="975.30" y="578.56" font-size="10" fill="#c8cad0" textLength="22.60" lengthAdjust="spacingAndGlyphs">3.15%</text><text x="977.80" y="36.61" font-size="11" fill="#d1d4dc" font-weight="700" textLength="7.20" lengthAdjust="spacingAndGlyphs">%</text><text x="975.20" y="358.46" font-size="10" fill="#ffffff" font-weight="700" textLength="22.90" lengthAdjust="spacingAndGlyphs">3.82%</text><text x="975.20" y="369.46" font-size="10" fill="#ffffff" textLength="34.20" lengthAdjust="spacingAndGlyphs">03:12:28</text><text x="975.20" y="384.36" font-size="10" fill="#0a3a10" textLength="22.90" lengthAdjust="spacingAndGlyphs">3.74%</text><text x="12.03" y="600.07" font-size="10" fill="#c8cad0" font-weight="700" textLength="9.30" lengthAdjust="spacingAndGlyphs">23</text><text x="108.83" y="600.07" font-size="10" fill="#c8cad0" font-weight="700" textLength="9.30" lengthAdjust="spacingAndGlyphs">26</text><text x="173.37" y="600.07" font-size="10" fill="#c8cad0" font-weight="700" textLength="9.30" lengthAdjust="spacingAndGlyphs">28</text><text x="336.96" y="600.07" font-size="10" fill="#c8cad0" font-weight="700" textLength="4.80" lengthAdjust="spacingAndGlyphs">4</text><text x="401.49" y="600.07" font-size="10" fill="#c8cad0" font-weight="700" textLength="4.80" lengthAdjust="spacingAndGlyphs">6</text><text x="466.03" y="600.07" font-size="10" fill="#c8cad0" font-weight="700" textLength="4.80" lengthAdjust="spacingAndGlyphs">8</text><text x="560.58" y="600.07" font-size="10" fill="#c8cad0" font-weight="700" textLength="9.30" lengthAdjust="spacingAndGlyphs">11</text><text x="625.12" y="600.07" font-size="10" fill="#c8cad0" font-weight="700" textLength="9.30" lengthAdjust="spacingAndGlyphs">13</text><text x="689.66" y="600.07" font-size="10" fill="#c8cad0" font-weight="700" textLength="9.30" lengthAdjust="spacingAndGlyphs">15</text><text x="786.46" y="600.07" font-size="10" fill="#c8cad0" font-weight="700" textLength="9.30" lengthAdjust="spacingAndGlyphs">18</text><text x="851.00" y="600.07" font-size="10" fill="#c8cad0" font-weight="700" textLength="9.30" lengthAdjust="spacingAndGlyphs">20</text><text x="915.53" y="600.07" font-size="10" fill="#c8cad0" font-weight="700" textLength="9.30" lengthAdjust="spacingAndGlyphs">22</text><text x="237.50" y="600.07" font-size="10" fill="#c8cad0" font-weight="700" textLength="4.50" lengthAdjust="spacingAndGlyphs">3</text><text x="242.00" y="600.12" font-size="9" fill="#c8cad0" font-weight="700" textLength="8.00" lengthAdjust="spacingAndGlyphs">월</text><text x="25.40" y="623.79" font-size="9.5" fill="#d1d4dc" font-weight="700" textLength="52.00" lengthAdjust="spacingAndGlyphs">TradingView</text></svg>
</body></html>
